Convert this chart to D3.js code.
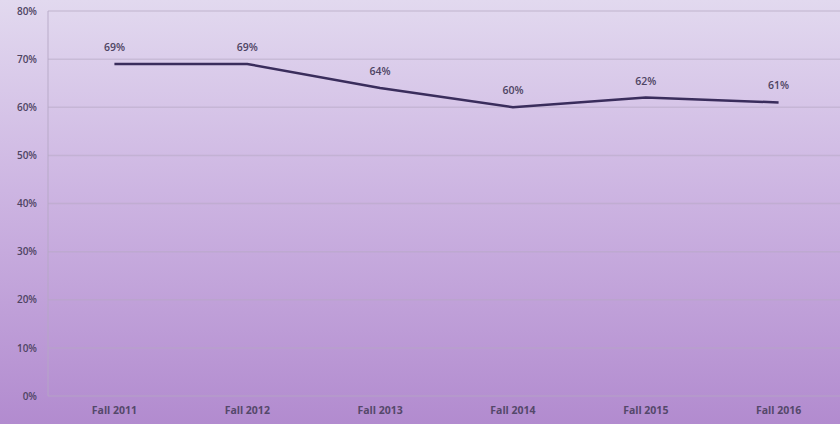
<!DOCTYPE html>
<html>
<head>
<meta charset="utf-8">
<script src="https://cdn.jsdelivr.net/npm/d3@7"></script>
<style>
  html, body { margin: 0; padding: 0; }
  body { width: 840px; height: 424px; overflow: hidden; }
  text { font-family: "Open Sans", "DejaVu Sans", sans-serif; }
</style>
</head>
<body>
<div id="chart"></div>
<script>
const categories = ['Fall 2011', 'Fall 2012', 'Fall 2013', 'Fall 2014', 'Fall 2015', 'Fall 2016'];
const values = [69, 69, 64, 60, 62, 61];
const yTicks = [0, 10, 20, 30, 40, 50, 60, 70, 80];

const W = 840;
const H = 424;
const margin = {top: 11, right: -5, bottom: 28, left: 48};
const width = W - margin.left - margin.right;
const height = H - margin.top - margin.bottom;

const svg = d3.select('#chart').append('svg')
  .attr('width', W)
  .attr('height', H);

// background gradient, pale lavender to violet
const defs = svg.append('defs');
const grad = defs.append('linearGradient')
  .attr('id', 'bg')
  .attr('x1', 0).attr('y1', 0).attr('x2', 0).attr('y2', 1);
grad.append('stop').attr('offset', '0%').attr('stop-color', '#e2d9ef');
grad.append('stop').attr('offset', '45%').attr('stop-color', '#cdb5e2');
grad.append('stop').attr('offset', '100%').attr('stop-color', '#b28bcf');

svg.append('rect')
  .attr('width', W)
  .attr('height', H)
  .attr('fill', 'url(#bg)');

const g = svg.append('g')
  .attr('transform', 'translate(' + margin.left + ',' + margin.top + ')');

const x = d3.scaleBand()
  .domain(categories)
  .range([0, width]);

const y = d3.scaleLinear()
  .domain([0, 80])
  .range([height, 0]);

// gridlines
g.selectAll('.grid')
  .data(yTicks)
  .enter().append('line')
  .attr('class', 'grid')
  .attr('x1', 0)
  .attr('x2', width)
  .attr('y1', d => y(d))
  .attr('y2', d => y(d))
  .attr('stroke', '#b5a8c4')
  .attr('stroke-opacity', 0.5)
  .attr('stroke-width', 1.5);

// left axis line
g.append('line')
  .attr('x1', 0).attr('x2', 0)
  .attr('y1', 0).attr('y2', height)
  .attr('stroke', '#b5a8c4')
  .attr('stroke-opacity', 0.6)
  .attr('stroke-width', 1.5);

// y axis labels
const yAxis = g.append('g')
  .call(d3.axisLeft(y).tickValues(yTicks).tickFormat(d => d + '%').tickSize(0).tickPadding(11));
yAxis.select('.domain').remove();
yAxis.selectAll('text')
  .attr('fill', '#4e4463')
  .style('font-size', '10px')
  .style('font-weight', 600);

// x axis labels
const xAxis = g.append('g')
  .attr('transform', 'translate(0,' + height + ')')
  .call(d3.axisBottom(x).tickSize(0).tickPadding(11));
xAxis.select('.domain').remove();
xAxis.selectAll('text')
  .attr('fill', '#54486a')
  .style('font-size', '10.5px')
  .style('font-weight', 700);

// the line
const line = d3.line()
  .x((d, i) => x(categories[i]) + x.bandwidth() / 2)
  .y(d => y(d));

g.append('path')
  .datum(values)
  .attr('fill', 'none')
  .attr('stroke', '#3a2d5c')
  .attr('stroke-width', 2.5)
  .attr('d', line);

// data labels
g.selectAll('.label')
  .data(values)
  .enter().append('text')
  .attr('class', 'label')
  .attr('x', (d, i) => x(categories[i]) + x.bandwidth() / 2)
  .attr('y', d => y(d) - 13)
  .attr('text-anchor', 'middle')
  .attr('fill', '#4e4463')
  .style('font-size', '10.5px')
  .style('font-weight', 600)
  .text(d => d + '%');
</script>
</body>
</html>
